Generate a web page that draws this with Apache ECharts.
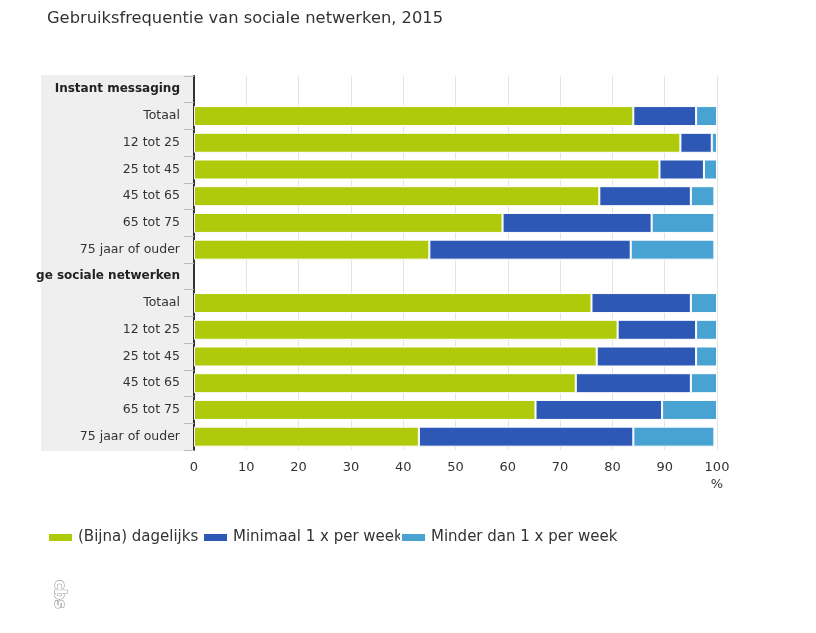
<!DOCTYPE html>
<html>
<head>
<meta charset="utf-8">
<title>Gebruiksfrequentie van sociale netwerken, 2015</title>
<script src="https://cdn.jsdelivr.net/npm/echarts@6/dist/echarts.min.js"></script>
<style>
  html, body { margin: 0; padding: 0; background: #fff; }
  #main { width: 816px; height: 633px; }
</style>
</head>
<body>
<div id="main"></div>
<script type="text/javascript">
// categorieen (kopregels zonder staven)
var categories = ['Instant messaging', 'Totaal', '12 tot 25', '25 tot 45', '45 tot 65', '65 tot 75', '75 jaar of ouder',
                  'ge sociale netwerken', 'Totaal', '12 tot 25', '25 tot 45', '45 tot 65', '65 tot 75', '75 jaar of ouder'];
var headers = [0, 7];

// waarden in %
var dagelijks = [null, 84, 93, 89, 77.5, 59, 45, null, 76, 81, 77, 73, 65.3, 43];
var wekelijks = [null, 12, 6, 8.5, 17.5, 28.5, 38.5, null, 19, 15, 19, 22, 24.2, 41];
var minder    = [null, 4, 1, 2.5, 4.5, 12, 16, null, 5, 4, 4, 5, 10.5, 15.5];

var seriesNames = ['(Bijna) dagelijks', 'Minimaal 1 x per week', 'Minder dan 1 x per week'];
var colors = ['#afca0b', '#2d58b6', '#48a3d2'];
var xTicks = [0, 10, 20, 30, 40, 50, 60, 70, 80, 90, 100];

var font = 'DejaVu Sans';
var myChart = echarts.init(document.getElementById('main'));

function makeSeries(name, data, color) {
    return {
        name: name,
        type: 'bar',
        stack: 'totaal',
        barWidth: 20,
        data: data,
        itemStyle: { color: color, borderColor: '#fff', borderWidth: 1 },
        emphasis: { disabled: true }
    };
}

function makeLegend(name, left) {
    return {
        data: [name],
        left: left,
        top: 530,
        padding: 0,
        itemWidth: 25,
        itemHeight: 9,
        itemGap: 0,
        itemTextGap: 9,
        icon: 'rect',
        selectedMode: false,
        textStyle: { fontFamily: font, fontSize: 15, color: '#333' }
    };
}

var option = {
    animation: false,
    color: colors,
    title: {
        text: 'Gebruiksfrequentie van sociale netwerken, 2015',
        left: 42,
        top: 6,
        textStyle: { fontFamily: font, fontSize: 16.3, fontWeight: 'normal', color: '#333' }
    },
    legend: [
        makeLegend(seriesNames[0], 47),
        makeLegend(seriesNames[1], 202),
        makeLegend(seriesNames[2], 400)
    ],
    grid: { left: 194, right: 99, top: 76, bottom: 183, containLabel: false },
    graphic: [
        {
            type: 'rect',
            z: -10,
            shape: { x: 41, y: 75, width: 152, height: 376 },
            style: { fill: '#efefef' }
        },
        {
            type: 'text',
            x: 717,
            y: 478,
            style: { text: '%', fontFamily: font, fontSize: 13, fill: '#333', align: 'center' }
        },
        {
            type: 'text',
            x: 66,
            y: 580,
            rotation: -Math.PI / 2,
            style: { text: 'cbs', fontFamily: font, fontSize: 15, fontWeight: 'bold', fill: '#fff', stroke: '#999', lineWidth: 1.2 }
        }
    ],
    xAxis: {
        type: 'value',
        min: 0,
        max: 100,
        interval: 10,
        axisLine: { show: false },
        axisTick: { show: false },
        splitLine: { show: true, lineStyle: { color: '#e4e4e4', width: 1 } },
        axisLabel: {
            fontFamily: font, fontSize: 13, color: '#333', margin: 11,
            formatter: function (v) { return xTicks.indexOf(v) >= 0 ? String(v) : ''; }
        }
    },
    yAxis: {
        type: 'category',
        inverse: true,
        data: categories,
        axisLine: { show: true, lineStyle: { color: '#333', width: 2 } },
        axisTick: { show: true, length: 10, lineStyle: { color: '#bbb' } },
        axisLabel: {
            margin: 14,
            fontFamily: font, fontSize: 12.5, color: '#333',
            formatter: function (v, i) {
                return headers.indexOf(i) >= 0 ? '{h|' + v + '}' : v;
            },
            rich: {
                h: { fontFamily: font, fontSize: 12, fontWeight: 'bold', color: '#222' }
            }
        }
    },
    series: [
        makeSeries(seriesNames[0], dagelijks, colors[0]),
        makeSeries(seriesNames[1], wekelijks, colors[1]),
        makeSeries(seriesNames[2], minder, colors[2])
    ]
};

myChart.setOption(option);
</script>
</body>
</html>
